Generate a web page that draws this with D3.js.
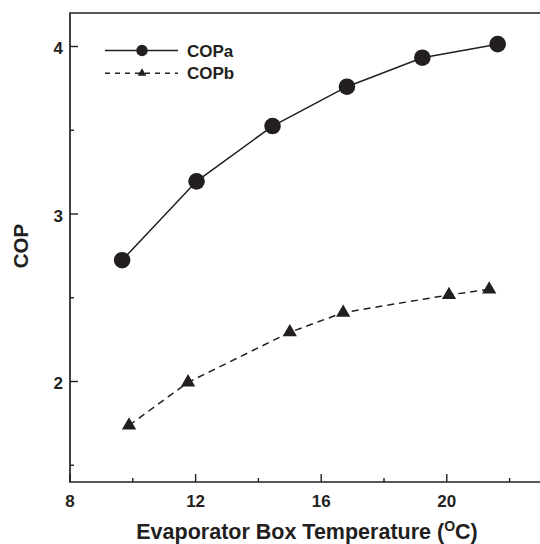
<!DOCTYPE html>
<html>
<head>
<meta charset="utf-8">
<script src="https://cdn.jsdelivr.net/npm/d3@7"></script>
<style>
  html, body { margin: 0; padding: 0; background: #fff; }
  svg { display: block; }
  text { font-family: "Liberation Sans", Arial, sans-serif; font-weight: bold; fill: #231f20; }
</style>
</head>
<body>
<svg id="chart" width="540" height="544"></svg>
<script>
// Evaporator box temperature (°C) for each test point
const tempA = [9.66, 12.03, 14.45, 16.82, 19.22, 21.62];
const copA  = [2.724, 3.195, 3.525, 3.76, 3.933, 4.014];
const tempB = [9.88, 11.76, 15.0, 16.7, 20.07, 21.35];
const copB  = [1.738, 1.995, 2.294, 2.411, 2.517, 2.55];

const xTicks = [8, 12, 16, 20];
const xMinor = [10, 14, 18, 22];
const yTicks = [2, 3, 4];
const yMinor = [1.5, 2.5, 3.5];
const seriesNames = ["COPa", "COPb"];

const ink = "#231f20";
const svg = d3.select("#chart");
const plotL = 70, plotT = 13, plotB = 482, plotR = 541;

const x = d3.scaleLinear().domain([8, 23]).range([plotL, plotR]);
const y = d3.scaleLinear().domain([1.4, 4.2]).range([plotB, plotT]);

// frame: left, top and bottom edges
svg.append("path")
  .attr("d", `M${plotR},${plotT}H${plotL}V${plotB}H${plotR}`)
  .attr("fill", "none").attr("stroke", ink).attr("stroke-width", 1.7);

// x axis ticks (inward) and labels
const xAxis = svg.append("g");
xAxis.selectAll("line.major").data(xTicks).join("line")
  .attr("class", "major")
  .attr("x1", d => x(d)).attr("x2", d => x(d))
  .attr("y1", plotB).attr("y2", plotB - 8)
  .attr("stroke", ink).attr("stroke-width", 1.4);
xAxis.selectAll("line.minor").data(xMinor).join("line")
  .attr("class", "minor")
  .attr("x1", d => x(d)).attr("x2", d => x(d))
  .attr("y1", plotB).attr("y2", plotB - 4)
  .attr("stroke", ink).attr("stroke-width", 1.4);
xAxis.selectAll("text").data(xTicks).join("text")
  .attr("x", d => x(d)).attr("y", 507)
  .attr("text-anchor", "middle").attr("font-size", 17)
  .text(d => d);

// y axis ticks (inward) and labels
const yAxis = svg.append("g");
yAxis.selectAll("line.major").data(yTicks).join("line")
  .attr("class", "major")
  .attr("x1", plotL).attr("x2", plotL + 8)
  .attr("y1", d => y(d)).attr("y2", d => y(d))
  .attr("stroke", ink).attr("stroke-width", 1.4);
yAxis.selectAll("line.minor").data(yMinor).join("line")
  .attr("class", "minor")
  .attr("x1", plotL).attr("x2", plotL + 4)
  .attr("y1", d => y(d)).attr("y2", d => y(d))
  .attr("stroke", ink).attr("stroke-width", 1.4);
yAxis.selectAll("text").data(yTicks).join("text")
  .attr("x", 63).attr("y", d => y(d) + 7.5)
  .attr("text-anchor", "end").attr("font-size", 17)
  .text(d => d);

// axis titles
const xt = svg.append("text")
  .attr("x", 307).attr("y", 539)
  .attr("text-anchor", "middle").attr("font-size", 21.5);
xt.append("tspan").text("Evaporator Box Temperature (");
xt.append("tspan").attr("font-size", 14).attr("dy", -8).text("O");
xt.append("tspan").attr("dy", 8).text("C)");

svg.append("text")
  .attr("transform", "translate(28,246) rotate(-90)")
  .attr("text-anchor", "middle").attr("font-size", 20.5)
  .text("COP");

// series lines
const line = d3.line().x(d => x(d[0])).y(d => y(d[1]));
const ptsA = tempA.map((t, i) => [t, copA[i]]);
const ptsB = tempB.map((t, i) => [t, copB[i]]);

svg.append("path").datum(ptsA).attr("d", line)
  .attr("fill", "none").attr("stroke", ink).attr("stroke-width", 1.5);
svg.append("path").datum(ptsB).attr("d", line)
  .attr("fill", "none").attr("stroke", ink).attr("stroke-width", 1.5)
  .attr("stroke-dasharray", "7,5");

const circle = d3.symbol().type(d3.symbolCircle).size(Math.PI * 8.3 * 8.3);
const tri = d3.symbol().type(d3.symbolTriangle).size(88);

svg.append("g").selectAll("path").data(ptsA).join("path")
  .attr("d", circle)
  .attr("transform", d => `translate(${x(d[0])},${y(d[1])})`)
  .attr("fill", ink);
svg.append("g").selectAll("path").data(ptsB).join("path")
  .attr("d", tri)
  .attr("transform", d => `translate(${x(d[0])},${y(d[1])})`)
  .attr("fill", ink);

// legend
const legend = svg.append("g");
const legRows = [
  { name: seriesNames[0], y: 50.5, dash: null, sym: d3.symbol().type(d3.symbolCircle).size(Math.PI * 5.7 * 5.7) },
  { name: seriesNames[1], y: 73.2, dash: "5,5", sym: d3.symbol().type(d3.symbolTriangle).size(32) }
];
legRows.forEach(r => {
  legend.append("line")
    .attr("x1", 105).attr("x2", 178).attr("y1", r.y).attr("y2", r.y)
    .attr("stroke", ink).attr("stroke-width", 1.4)
    .attr("stroke-dasharray", r.dash);
  legend.append("path").attr("d", r.sym)
    .attr("transform", `translate(142,${r.y})`).attr("fill", ink);
  legend.append("text").attr("x", 187).attr("y", r.y + 6)
    .attr("font-size", 17).text(r.name);
});
</script>
</body>
</html>
